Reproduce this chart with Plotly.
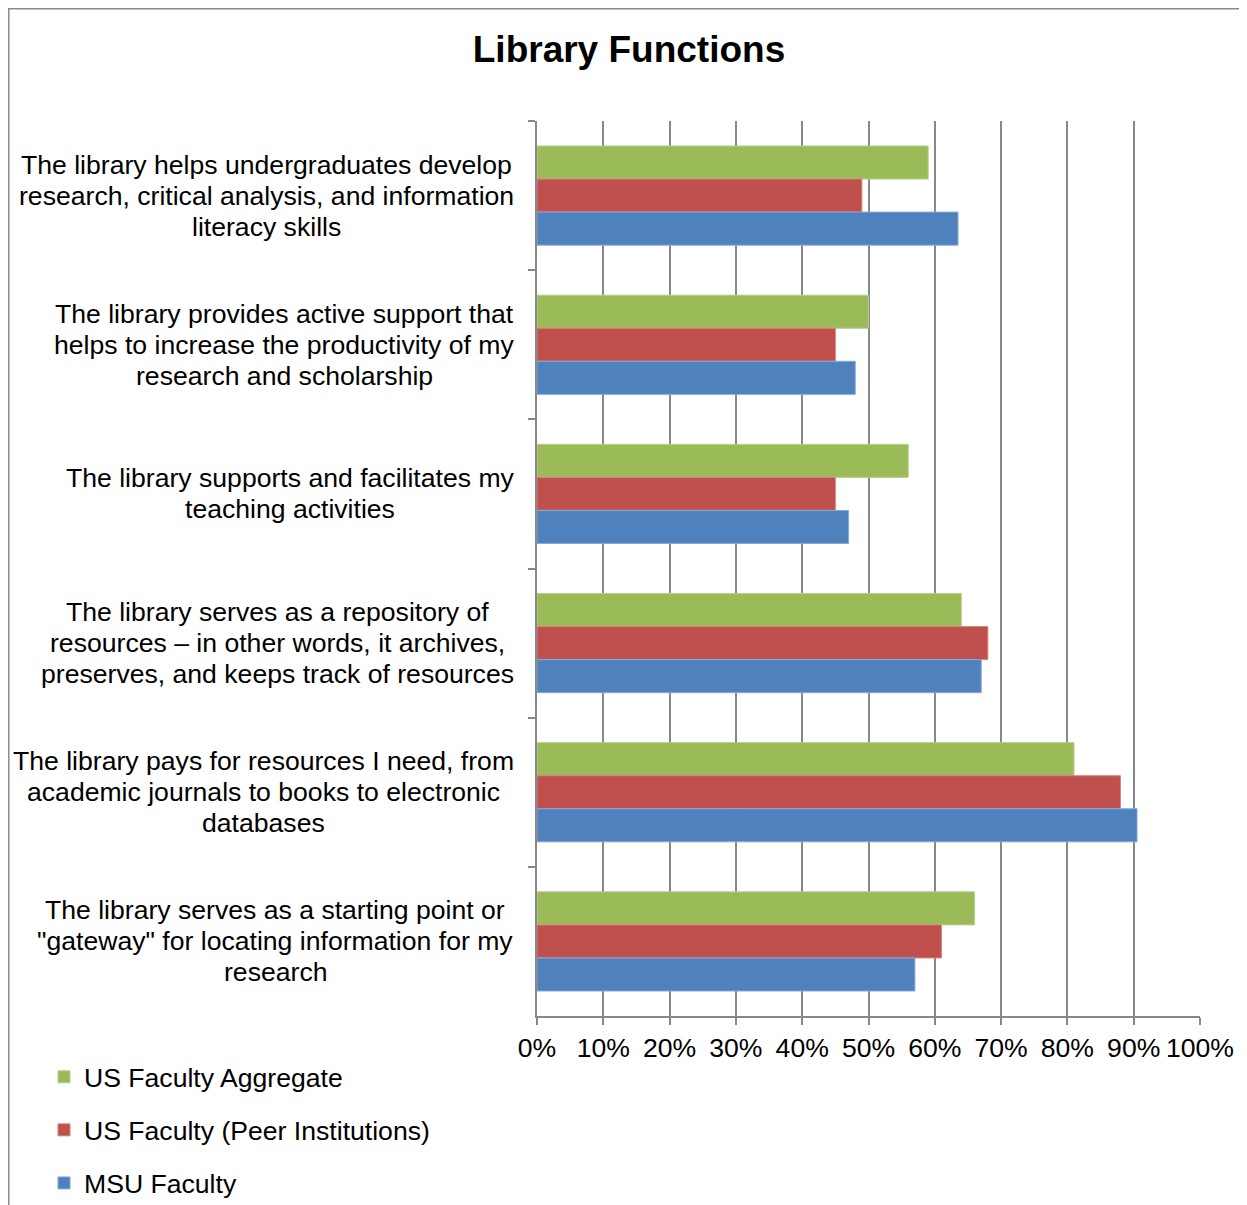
import plotly.graph_objects as go

categories = [
    "The library helps undergraduates develop<br>research, critical analysis, and information<br>literacy skills",
    "The library provides active support that<br>helps to increase the productivity of my<br>research and scholarship",
    "The library supports and facilitates my<br>teaching activities",
    "The library serves as a repository of<br>resources – in other words, it archives,<br>preserves, and keeps track of resources",
    "The library pays for resources I need, from<br>academic journals to books to electronic<br>databases",
    "The library serves as a starting point or<br>\"gateway\" for locating information for my<br>research",
]
series_names = ["US Faculty Aggregate", "US Faculty (Peer Institutions)", "MSU Faculty"]
us_aggregate = [59, 50, 56, 64, 81, 66]
us_peer = [49, 45, 45, 68, 88, 61]
msu_faculty = [63.5, 48, 47, 67, 90.5, 57]
tick_values = [0, 10, 20, 30, 40, 50, 60, 70, 80, 90, 100]
tick_labels = ["0%", "10%", "20%", "30%", "40%", "50%", "60%", "70%", "80%", "90%", "100%"]
title_text = "Library Functions"

# ---- layout geometry (pixels, page coords; page has an 8px body margin) ----
OFF = 8
W, H = 1247 - OFF, 1205 - OFF
PL, PR, PT, PB = 537 - OFF, 1200 - OFF, 121 - OFF, 1016 - OFF
label_cx = [266, 284, 290, 277, 263, 275]
LINE_H = 31
FONT = "Liberation Sans, Arial, sans-serif"
FS = 26.6


def xp(px_page):
    return (px_page - OFF - PL) / (PR - PL)


def yp(py_page):
    return (PB - (py_page - OFF)) / (PB - PT)


colors = ["#9BBB59", "#C0504D", "#4F81BD"]
edges = ["#B9CF8E", "#D6837F", "#88A9D4"]
values = [us_aggregate, us_peer, msu_faculty]

fig = go.Figure()
for i, (name, vals) in enumerate(zip(series_names, values)):
    fig.add_trace(go.Bar(
        x=vals, y=categories, orientation="h", name=name,
        marker=dict(color=colors[i], line=dict(color=edges[i], width=1)),
        legendgroup=f"g{i}",
    ))

annotations = []
for gi, cat in enumerate(categories):
    lines = cat.split("<br>")
    n = len(lines)
    for k, line in enumerate(lines):
        off = (k - (n - 1) / 2) * LINE_H
        annotations.append(dict(
            x=xp(label_cx[gi]), xref="paper", y=cat, yref="y",
            yshift=-off, text=line, showarrow=False,
            xanchor="center", yanchor="middle",
            font=dict(family=FONT, size=FS, color="#000000"),
        ))

shapes = [
    dict(type="line", xref="paper", yref="paper", x0=xp(8), x1=xp(1300), y0=yp(8.8), y1=yp(8.8),
         line=dict(color="#8A8A8A", width=1.5)),
    dict(type="line", xref="paper", yref="paper", x0=xp(8.8), x1=xp(8.8), y0=yp(8), y1=yp(1230),
         line=dict(color="#8A8A8A", width=1.5)),
]

fig.update_layout(
    width=W, height=H,
    margin=dict(l=PL, r=W - PR, t=PT, b=H - PB, pad=0, autoexpand=False),
    paper_bgcolor="white", plot_bgcolor="white",
    barmode="group", bargap=0.335, bargroupgap=0,
    title=dict(text=f"<b>{title_text}</b>", x=(629 - OFF) / W, xref="container", xanchor="center",
               y=1 - (49 - OFF) / H, yref="container", yanchor="middle",
               font=dict(family=FONT, size=37, color="#000000")),
    xaxis=dict(range=[0, 100], tickmode="array", tickvals=tick_values, ticktext=tick_labels,
               showgrid=True, gridcolor="#878787", gridwidth=2,
               showline=True, linecolor="#878787", linewidth=2,
               ticks="outside", ticklen=7, tickwidth=2, tickcolor="#878787",
               tickfont=dict(family=FONT, size=FS, color="#000000"),
               zeroline=False, fixedrange=True),
    yaxis=dict(autorange="reversed", type="category", showticklabels=False,
               showline=True, linecolor="#878787", linewidth=2,
               ticks="outside", ticklen=7, tickwidth=2, tickcolor="#878787",
               tickson="boundaries", showgrid=False, zeroline=False, fixedrange=True),
    legend=dict(orientation="v", x=xp(44), xanchor="left", y=yp(1053), yanchor="top",
                traceorder="grouped", tracegroupgap=15.5,
                font=dict(family=FONT, size=FS, color="#000000"),
                bgcolor="rgba(0,0,0,0)", borderwidth=0),
    annotations=annotations,
    shapes=shapes,
    showlegend=True,
)

fig.write_html("out.html")
